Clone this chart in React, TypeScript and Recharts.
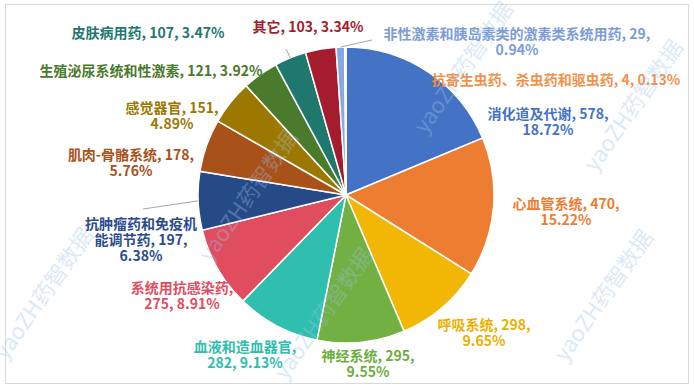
import { PieChart, Pie, Cell } from 'recharts';

const categories = [
  '消化道及代谢',
  '心血管系统',
  '呼吸系统',
  '神经系统',
  '血液和造血器官',
  '系统用抗感染药',
  '抗肿瘤药和免疫机能调节药',
  '肌肉-骨骼系统',
  '感觉器官',
  '生殖泌尿系统和性激素',
  '皮肤病用药',
  '其它',
  '非性激素和胰岛素类的激素类系统用药',
  '抗寄生虫药、杀虫药和驱虫药',
];
const values = [578, 470, 298, 295, 282, 275, 197, 178, 151, 121, 107, 103, 29, 4];

const sliceColors = [
  '#4472C4', '#ED7D31', '#F2B705', '#72B043', '#30BFAE', '#E04D5F', '#264A86',
  '#A8521A', '#9C7800', '#4A7A2C', '#1E786E', '#A51C2E', '#8AA8DE', '#F4B183',
];
const textColors = [
  '#4472C4', '#ED7D31', '#EAB000', '#6DAE3E', '#2FBDAC', '#E04D5F', '#2A4C8C',
  '#A8521A', '#9C7800', '#4A7A2C', '#1E786E', '#A51C2E', '#7C9CD8', '#F0914A',
];

// how each label wraps: 'v' = after the value, 'n' = after the name, 'none' = one line
const wraps = ['v', 'v', 'v', 'v', 'n', 'n', 'nv', 'v', 'v', 'none', 'none', 'none', 'v', 'none'];

// label block centre, offset from the pie centre
const labelOffsets = [
  [202, -74], [220, 16], [138, 137], [22, 168], [-101, 159], [-164, 100], [-205, 44],
  [-215, -33], [-174, -80], [-195, -125], [-198, -163], [-38, -169], [171, -154], [210, -116],
];
// leader line end (offset from pie centre), only some labels have one
const leaderEnds: Record<number, [number, number]> = {
  6: [-203, 14],
  10: [-60, -146],
  12: [26, -155],
};

const total = values.reduce((a, b) => a + b, 0);
const data = categories.map((name, i) => ({ name, value: values[i] }));

const W = 694;
const H = 386;
const CX = 346;
const CY = 195;
const R = 148;
const RAD = Math.PI / 180;

function labelLines(i: number) {
  const name = categories[i];
  const v = values[i];
  const pct = ((v / total) * 100).toFixed(2) + '%';
  const w = wraps[i];
  if (w === 'v') return [`${name}, ${v},`, pct];
  if (w === 'n') return [`${name},`, `${v}, ${pct}`];
  if (w === 'nv') return [name.slice(0, 8), `${name.slice(8)}, ${v},`, pct];
  return [`${name}, ${v}, ${pct}`];
}

function renderLabel(props: any) {
  const { cx, cy, midAngle, outerRadius, index } = props;
  const lines = labelLines(index);
  const [dx, dy] = labelOffsets[index];
  const x = cx + dx;
  const y0 = cy + dy - ((lines.length - 1) * 16) / 2;
  const leader = leaderEnds[index];
  let line = null;
  if (leader) {
    const sx = cx + outerRadius * Math.cos(-midAngle * RAD);
    const sy = cy + outerRadius * Math.sin(-midAngle * RAD);
    line = (
      <line x1={sx} y1={sy} x2={cx + leader[0]} y2={cy + leader[1]} stroke='#A6A6A6' strokeWidth={1} />
    );
  }
  return (
    <g key={`lbl-${index}`}>
      {line}
      <text
        x={x}
        y={y0}
        textAnchor='middle'
        dominantBaseline='central'
        fill={textColors[index]}
        fontSize={14}
        fontWeight='bold'
        fontFamily='"Noto Sans CJK SC", "Noto Sans", sans-serif'
      >
        {lines.map((t, k) => (
          <tspan key={k} x={x} y={y0 + k * 16}>
            {t}
          </tspan>
        ))}
      </text>
    </g>
  );
}

// faint watermark spots
const marks = [
  [470, 72], [255, 200], [50, 298], [330, 318], [610, 300], [640, 110],
];

export default function App() {
  return (
    <div style={{ position: 'absolute', left: 0, top: 0, width: W, height: H, background: '#fff' }}>
      <div
        style={{
          position: 'absolute',
          left: 5,
          top: 4,
          width: 684,
          height: 380,
          border: '1px solid #D9D9D9',
          boxSizing: 'border-box',
        }}
      />
      <PieChart width={W} height={H} margin={{ top: 0, right: 0, bottom: 0, left: 0 }}>
        <Pie
          data={data}
          dataKey='value'
          nameKey='name'
          cx={CX}
          cy={CY}
          outerRadius={R}
          startAngle={90}
          endAngle={-270}
          stroke='#fff'
          strokeWidth={1.5}
          label={renderLabel}
          labelLine={false}
          isAnimationActive={false}
        >
          {data.map((d, i) => (
            <Cell key={d.name} fill={sliceColors[i]} />
          ))}
        </Pie>
      </PieChart>
      <svg width={W} height={H} style={{ position: 'absolute', left: 0, top: 0, pointerEvents: 'none' }}>
        {marks.map(([x, y], i) => (
          <text
            key={i}
            x={x}
            y={y}
            transform={`rotate(-55 ${x} ${y})`}
            textAnchor='middle'
            fontSize={22}
            fontFamily='"Noto Sans CJK SC", sans-serif'
            fill='#9DC3E6'
            opacity={0.35}
          >
            yaoZH药智数据
          </text>
        ))}
      </svg>
    </div>
  );
}
